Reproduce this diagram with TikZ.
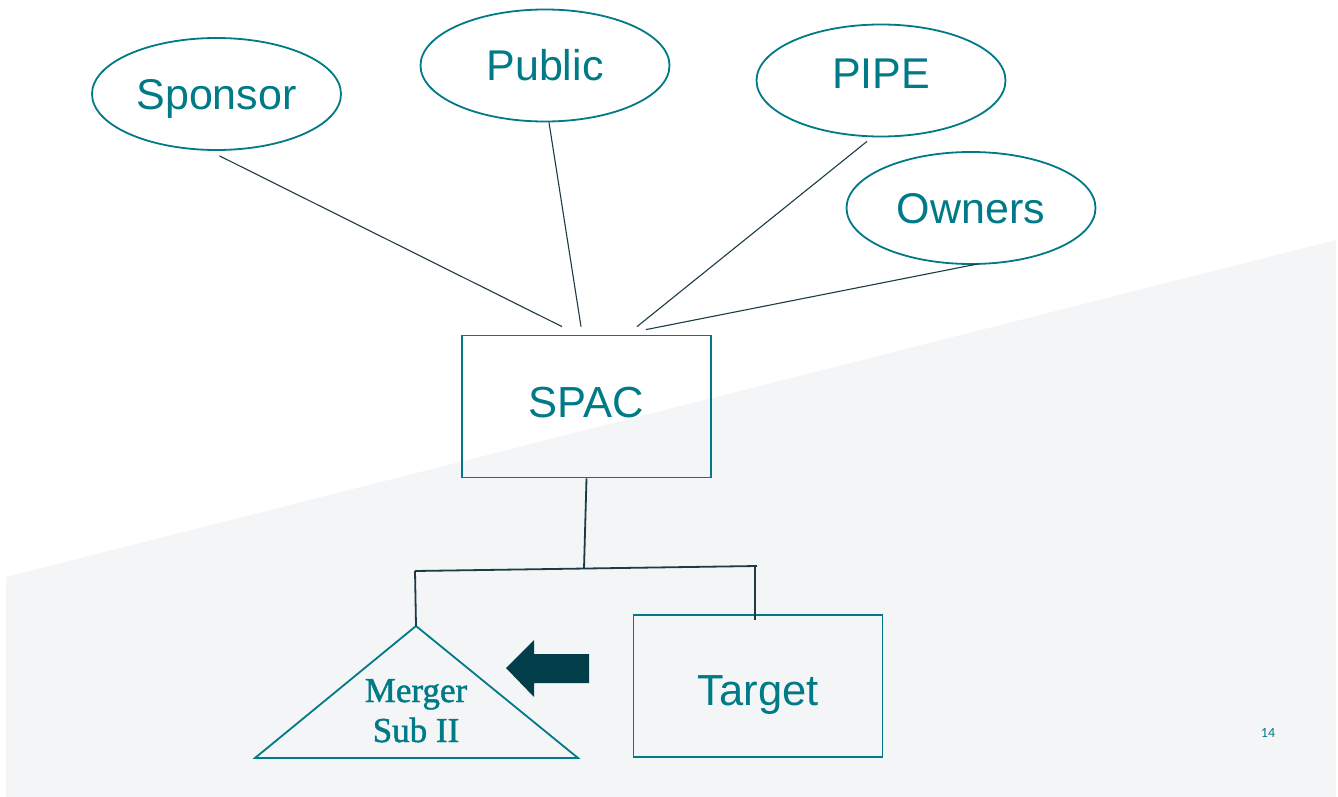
\documentclass[tikz,border=0pt]{standalone}
\usepackage{fontspec}
\setmainfont{Liberation Sans}
\newfontfamily\msfont[FakeBold=1.3]{Liberation Serif}
\newfontfamily\pgfont{Carlito}
\usetikzlibrary{shapes.geometric,calc}
\definecolor{tealc}{HTML}{007A87}
\definecolor{linec}{HTML}{1C3B45}
\definecolor{arrowc}{HTML}{023D4A}
\definecolor{bggray}{HTML}{F4F5F7}
\begin{document}
\begin{tikzpicture}[x=1pt,y=-1pt,
  oval/.style={ellipse,draw=tealc,line width=1.8pt,minimum width=249pt,minimum height=112pt,inner sep=0pt,
    text=tealc,font=\fontsize{43}{50}\selectfont,text height=31pt,text depth=0pt},
  boxn/.style={rectangle,draw=tealc,line width=1.8pt,minimum width=249pt,minimum height=142pt,inner sep=0pt,
    text=tealc,font=\fontsize{43.5}{50}\selectfont,text height=31pt,text depth=0pt},
  thin/.style={draw=linec,line width=1.1pt},
  thick/.style={draw=linec,line width=1.8pt},
  tri/.style={draw=tealc,line width=1.8pt,line join=miter},
  mstext/.style={text=tealc,font=\msfont\fontsize{35}{40}\selectfont,anchor=base,inner sep=0pt}]
\useasboundingbox (0,0) rectangle (1338,797);
\fill[white] (0,0) rectangle (1338,797);
\fill[bggray] (6,577) -- (1336,240) -- (1336,797) -- (6,797) -- cycle;

% ellipses
\node[oval] (sponsor) at (216.5,94) {Sponsor};
\node[oval] (public) at (545,65.5) {Public};
\node[oval,text depth=15pt] (pipe) at (881,80.5) {PIPE};
\node[oval] (owners) at (971,208) {Owners};

% boxes
\node[boxn,text depth=10pt] (spac) at (586.5,406.5) {SPAC};
\node[boxn,text height=38pt] (target) at (758,686) {Target};

% triangle
\coordinate (msapex) at (416,626);
\coordinate (msleft) at (255,758);
\coordinate (msright) at (578,758);
\draw[tri] (msapex) -- (msright) -- (msleft) -- cycle;
\node[mstext] (msub1) at (416,702) {Merger};
\node[mstext] (msub2) at (416,742) {Sub II};

% connectors to spac
\coordinate (c1a) at ($(sponsor.south)+(3,5)$);
\coordinate (c1b) at ($(spac.north)+(-24.5,-8)$);
\coordinate (c2a) at ($(public.south)+(4,0)$);
\coordinate (c2b) at ($(spac.north)+(-5.5,-8)$);
\coordinate (c3a) at ($(pipe.south)+(-14,4)$);
\coordinate (c3b) at ($(spac.north)+(50.5,-8)$);
\coordinate (c4a) at ($(owners.south)+(7,-1)$);
\coordinate (c4b) at ($(spac.north)+(59.5,-5)$);
\draw[thin] (c1a) -- (c1b);
\draw[thin] (c2a) -- (c2b);
\draw[thin] (c3a) -- (c3b);
\draw[thin] (c4a) -- (c4b);

% lower tree
\coordinate (jn) at (584,568.5);
\coordinate (barl) at (415,571);
\coordinate (barr) at (757,566);
\coordinate (tgtop) at (755,620);
\draw[thick] (spac.south) -- (jn);
\draw[thick] (barl) -- (barr);
\draw[thick] (barl) -- (msapex);
\draw[thick] ($(barr)+(-2,0)$) -- (tgtop);

% block arrow
\fill[arrowc] (506,668) -- (534,640) -- (534,654) -- (589,654) -- (589,683) -- (534,683) -- (534,697) -- cycle;

% page number
\node[text=tealc,font=\pgfont\fontsize{14}{16}\selectfont,inner sep=0pt] (pgnum) at (1268,733) {14};
\end{tikzpicture}
\end{document}
